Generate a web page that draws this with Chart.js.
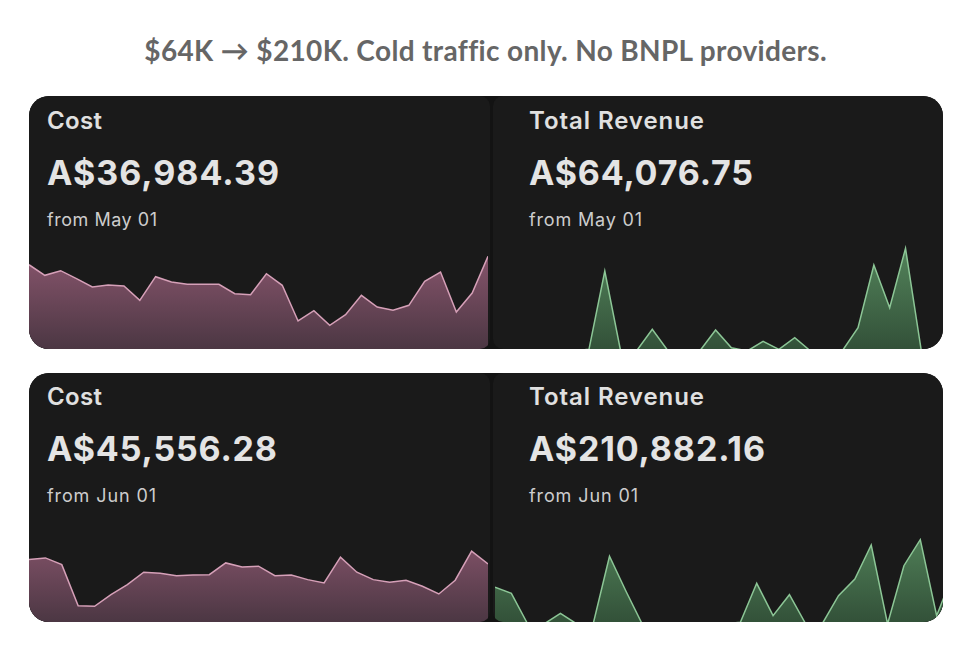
<!DOCTYPE html>
<html><head><meta charset="utf-8">
<script src="https://cdn.jsdelivr.net/npm/chart.js@4.4.1/dist/chart.umd.min.js"></script>
<style>
html,body{margin:0;padding:0;background:#fff;}
body{width:970px;height:653px;position:relative;overflow:hidden;font-family:Inter,"Liberation Sans",sans-serif;}
.row{position:absolute;left:29px;width:914px;border-radius:20px;overflow:hidden;background:#131313;}
.card{position:absolute;top:0;bottom:0;background:#1a1a1a;border-radius:10px;overflow:hidden;}
.card canvas{position:absolute;}
.t{position:absolute;white-space:nowrap;line-height:1;z-index:5;}
.label{font-weight:600;font-size:24px;color:#e0e0e0;}
.value{font-weight:700;font-size:34px;color:#e4e4e4;}
.sub{font-weight:400;font-size:18px;color:#cdcdcd;}
#heading{font-family:Lato,"Noto Sans",sans-serif;font-weight:700;font-size:28px;color:#666;}
</style>
</head><body>

<div class="row" style="top:96px;height:253px;">
  <div class="card" style="left:0;width:461px;"><canvas id="c1" width="459" height="120" style="left:0;top:135px;width:459px;height:120px;"></canvas></div>
  <div class="card" style="left:464px;width:470px;"><canvas id="c2" width="459" height="120" style="left:1px;top:135px;width:459px;height:120px;"></canvas></div>
</div>
<div class="row" style="top:373px;height:249px;">
  <div class="card" style="left:0;width:461px;"><canvas id="c3" width="459" height="113" style="left:0;top:138px;width:459px;height:113px;"></canvas></div>
  <div class="card" style="left:464px;width:470px;"><canvas id="c4" width="458" height="113" style="left:2px;top:138px;width:458px;height:113px;"></canvas></div>
</div>

<div class="t" id="heading" data-cx="485.5" data-b="61" data-w="681">$64K → $210K. Cold traffic only. No BNPL providers.</div>

<div class="t label" data-x="47" data-b="129" data-w="55">Cost</div>
<div class="t value" data-x="47" data-b="185" data-w="232">A$36,984.39</div>
<div class="t sub" data-x="47" data-b="226" data-w="110">from May 01</div>

<div class="t label" data-x="529" data-b="129" data-w="175">Total Revenue</div>
<div class="t value" data-x="529" data-b="185" data-w="224">A$64,076.75</div>
<div class="t sub" data-x="529" data-b="226" data-w="113">from May 01</div>

<div class="t label" data-x="47" data-b="405" data-w="55">Cost</div>
<div class="t value" data-x="47" data-b="461" data-w="230">A$45,556.28</div>
<div class="t sub" data-x="47" data-b="502" data-w="109">from Jun 01</div>

<div class="t label" data-x="529" data-b="405" data-w="175">Total Revenue</div>
<div class="t value" data-x="529" data-b="461" data-w="236">A$210,882.16</div>
<div class="t sub" data-x="529" data-b="502" data-w="109">from Jun 01</div>

<script>
const mayDays = ["May 01","May 02","May 03","May 04","May 05","May 06","May 07","May 08","May 09","May 10","May 11","May 12","May 13","May 14","May 15","May 16","May 17","May 18","May 19","May 20","May 21","May 22","May 23","May 24","May 25","May 26","May 27","May 28","May 29","May 30"];
const junDays = ["Jun 01","Jun 02","Jun 03","Jun 04","Jun 05","Jun 06","Jun 07","Jun 08","Jun 09","Jun 10","Jun 11","Jun 12","Jun 13","Jun 14","Jun 15","Jun 16","Jun 17","Jun 18","Jun 19","Jun 20","Jun 21","Jun 22","Jun 23","Jun 24","Jun 25","Jun 26","Jun 27","Jun 28","Jun 29"];

const mayCost = [1754,1539,1633,1470,1301,1342,1321,1031,1511,1403,1356,1356,1356,1165,1145,1572,1336,610,819,522,738,1132,895,827,929,1417,1606,793,1179,1925];
const mayRevenue = [0,0,0,0,0,0,267,12576,0,0,3411,0,0,0,3301,519,0,1525,267,2091,0,0,0,3663,13519,6807,16144,0,0,0];
const junCost = [2103,2158,1939,598,579,958,1285,1691,1658,1579,1602,1612,1995,1864,1887,1579,1602,1449,1341,2181,1691,1449,1364,1429,1233,981,1429,2377,1962];
const junRevenue = [12647,10579,0,0,3687,0,0,23330,11372,0,0,0,0,0,0,586,14025,2860,10097,0,0,9752,15507,27223,0,20090,29049,2860,17230];

const pink = {line:'rgb(214,160,184)', top:'rgb(150,92,118)', bottom:'rgb(74,54,66)'};
const green = {line:'rgb(140,198,150)', top:'rgb(88,140,96)', bottom:'rgb(50,80,56)'};

function spark(id, labels, data, yMax, col){
  new Chart(document.getElementById(id), {
    type:'line',
    data:{labels:labels, datasets:[{
      data:data, borderColor:col.line, borderWidth:1.5, pointRadius:0, tension:0, fill:'origin',
      backgroundColor:(ctx)=>{const ch=ctx.chart, a=ch.chartArea; if(!a) return col.bottom;
        const g=ch.ctx.createLinearGradient(0,a.top,0,a.bottom); g.addColorStop(0,col.top); g.addColorStop(1,col.bottom); return g;}
    }]},
    options:{responsive:false, animation:false, events:[],
      layout:{padding:0},
      plugins:{legend:{display:false}, tooltip:{enabled:false}},
      scales:{x:{display:false, offset:false}, y:{display:false, min:0, max:yMax}}}
  });
}
spark('c1', mayDays, mayCost, 2440, pink);
spark('c2', mayDays, mayRevenue, 18870, green);
spark('c3', junDays, junCost, 3690, pink);
spark('c4', junDays, junRevenue, 38940, green);

document.querySelectorAll('.t').forEach(el=>{
  const b=+el.dataset.b, w=+el.dataset.w;
  const probe=document.createElement('span');
  probe.style.cssText='display:inline-block;width:0;height:0;vertical-align:baseline';
  el.appendChild(probe);
  el.style.top='0px'; el.style.left='0px';
  const n=el.textContent.length;
  const cur=el.getBoundingClientRect().width;
  if(w && n>1) el.style.letterSpacing=((w-cur)/(n-1))+'px';
  const r=el.getBoundingClientRect();
  const off=probe.getBoundingClientRect().top - r.top;
  el.style.top=(b-off)+'px';
  if(el.dataset.cx){ const ls=parseFloat(el.style.letterSpacing)||0; el.style.left=(+el.dataset.cx-(r.width-ls)/2)+'px'; }
  else el.style.left=el.dataset.x+'px';
});
</script>
</body></html>
